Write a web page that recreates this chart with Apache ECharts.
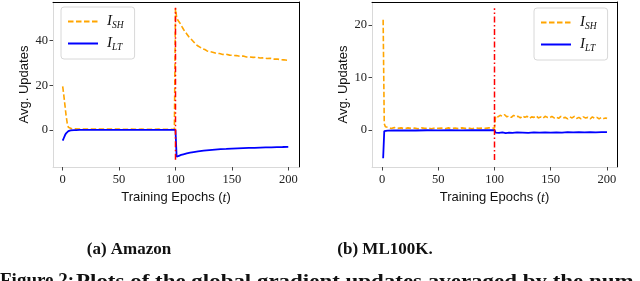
<!DOCTYPE html>
<html>
<head>
<meta charset="utf-8">
<script src="https://cdn.jsdelivr.net/npm/echarts@6/dist/echarts.min.js"></script>
<style>html,body{margin:0;padding:0;background:#fff}#c{width:640px;height:281px}</style>
</head>
<body>
<div id="c"></div>
<script>
// ---- Data ----
const amazonShX = [0,1,2,3,4,5,6,8,10,15,20,25,30,35,40,45,50,55,60,65,70,75,80,85,90,95,99,100,101,102,104,106,108,110,112,114,116,118,120,122,124,126,128,130,133,136,139,142,145,148,151,154,157,160,163,166,169,172,175,178,181,184,187,190,193,196,200];
const amazonShY = [19.5,15.5,11,6.5,3,1.2,0.7,0.5,0.5,0.4,0.45,0.4,0.35,0.4,0.35,0.4,0.35,0.3,0.35,0.3,0.35,0.3,0.3,0.35,0.3,0.3,0.3,54.5,50.5,49.2,47.8,46.0,44.3,43.0,41.6,40.6,39.5,38.3,37.6,37.0,36.3,36.0,35.4,35.1,34.8,34.3,34.2,33.8,33.9,33.5,33.4,33.3,33.0,33.1,32.7,32.7,32.5,32.6,32.2,32.3,32.0,32.1,31.7,31.8,31.5,31.4,31.1];
const amazonLtX = [0,1,2,3,4,5,6,7,8,10,12,15,20,30,40,50,60,70,80,90,100,101,102,103,105,107,110,113,116,120,125,130,135,140,145,150,155,160,165,170,175,180,185,190,195,200];
const amazonLtY = [-4.8,-3.6,-2.4,-1.5,-0.9,-0.55,-0.35,-0.22,-0.15,-0.08,-0.04,0,0,0,0,0,0,0,0,0,0,-12.0,-11.8,-11.6,-11.2,-10.9,-10.5,-10.2,-9.9,-9.6,-9.3,-9.0,-8.8,-8.6,-8.5,-8.35,-8.25,-8.15,-8.05,-8.0,-7.9,-7.85,-7.8,-7.7,-7.65,-7.55];
const amazonVline = [-13.4, 54.7];

const mlShX = [1,2,3,5,8,11,14,17,20,23,26,29,32,35,38,41,44,47,50,53,56,59,62,65,68,71,74,77,80,83,86,89,92,95,98,100,101,103,105,107,109,111,113,115,117,119,121,123,125,127,129,131,133,135,137,139,141,143,145,147,149,151,153,155,157,159,161,163,165,167,169,171,173,175,177,179,181,183,185,187,189,191,193,195,197,199,200];
const mlShY = [21,1.2,0.6,0.5,0.3,0.45,0.3,0.4,0.25,0.4,0.3,0.35,0.25,0.4,0.3,0.35,0.25,0.4,0.3,0.35,0.25,0.4,0.3,0.35,0.25,0.4,0.3,0.35,0.25,0.4,0.3,0.35,0.3,0.4,0.3,0.4,2.7,2.5,2.8,2.6,2.9,2.5,2.7,2.4,2.8,2.5,2.6,2.3,2.7,2.4,2.6,2.2,2.5,2.4,2.7,2.3,2.5,2.2,2.6,2.4,2.3,2.6,2.3,2.5,2.2,2.6,2.3,2.4,2.1,2.5,2.3,2.6,2.2,2.4,2.1,2.5,2.3,2.4,2.1,2.5,2.2,2.4,2.1,2.4,2.2,2.3,2.2];
const mlLtX = [1,2,5,10,20,30,40,50,60,70,80,90,100,101,104,107,110,113,116,120,125,130,135,140,145,150,155,160,165,170,175,180,185,190,195,200];
const mlLtY = [-5.4,-0.2,-0.12,-0.1,-0.08,-0.1,-0.05,-0.08,-0.05,-0.07,-0.04,-0.05,-0.03,-0.5,-0.55,-0.45,-0.6,-0.5,-0.55,-0.45,-0.5,-0.55,-0.45,-0.5,-0.45,-0.5,-0.45,-0.5,-0.42,-0.47,-0.43,-0.45,-0.4,-0.44,-0.4,-0.42];
const mlVline = [-5.7, 23.2];

const switchEpoch = 100;
const xTicks = [0, 50, 100, 150, 200];
const amazonYTicks = [0, 20, 40];
const mlYTicks = [0, 10, 20];
const seriesNames = ['I_SH', 'I_LT'];
const captions = ['(a) Amazon', '(b) ML100K.'];
const figCaptionHead = 'Figure 2:';
const figCaptionBody = 'Plots of the global gradient updates averaged by the num';

// ---- Build ----
const zip = (xs, ys) => xs.map((x, i) => [x, ys[i]]);
const ORANGE = '#ffa500', BLUE = '#0000ff', RED = '#ff0000';
const SERIF = '"Liberation Serif", "DejaVu Serif", serif';
const SANS = '"Liberation Sans", "DejaVu Sans", sans-serif';

function xAxes(grid, min, max) {
  return [
    {
      gridIndex: grid, type: 'value', min: min, max: max, position: 'bottom',
      axisLine: { onZero: false, lineStyle: { color: '#d9d9d9', width: 1 } },
      axisTick: { show: true, length: 3.5, customValues: xTicks, lineStyle: { color: '#444' } },
      axisLabel: { customValues: xTicks, margin: 6, color: '#222', fontFamily: SERIF, fontSize: 12.5 },
      splitLine: { show: false },
      name: '{n|Training Epochs (}{t|t}{n|)}', nameLocation: 'middle', nameGap: 21,
      nameTextStyle: { rich: {
        n: { fontFamily: SANS, fontSize: 13, color: '#111' },
        t: { fontFamily: SERIF, fontStyle: 'italic', fontSize: 14, color: '#111' } } }
    },
    {
      gridIndex: grid, type: 'value', min: min, max: max, position: 'top',
      axisLine: { onZero: false, lineStyle: { color: '#000', width: 1 } },
      axisTick: { show: false }, axisLabel: { show: false }, splitLine: { show: false }
    }
  ];
}
function yAxes(grid, min, max, ticks) {
  return [
    {
      gridIndex: grid, type: 'value', min: min, max: max, position: 'left',
      axisLine: { show: true, onZero: false, lineStyle: { color: '#d9d9d9', width: 1 } },
      axisTick: { show: true, length: 3.5, customValues: ticks, lineStyle: { color: '#444' } },
      axisLabel: { customValues: ticks, margin: 5, color: '#222', fontFamily: SERIF, fontSize: 12.5 },
      splitLine: { show: false },
      name: 'Avg. Updates', nameLocation: 'middle', nameGap: 22, nameRotate: 90,
      nameTextStyle: { fontFamily: SANS, fontSize: 13, color: '#111' }
    },
    {
      gridIndex: grid, type: 'value', min: min, max: max, position: 'right',
      axisLine: { show: true, onZero: false, lineStyle: { color: '#000', width: 1 } },
      axisTick: { show: false }, axisLabel: { show: false }, splitLine: { show: false }
    }
  ];
}
function lines(ax, shX, shY, ltX, ltY, vline) {
  return [
    { type: 'line', name: seriesNames[0], xAxisIndex: ax, yAxisIndex: ax, data: zip(shX, shY),
      showSymbol: false, symbol: 'none', lineStyle: { color: ORANGE, width: 1.6, type: [5.5, 2.5] }, itemStyle: { color: ORANGE }, z: 3 },
    { type: 'line', name: seriesNames[1], xAxisIndex: ax, yAxisIndex: ax, data: zip(ltX, ltY),
      showSymbol: false, symbol: 'none', lineStyle: { color: BLUE, width: 1.8 }, itemStyle: { color: BLUE }, z: 4 },
    { type: 'line', name: 'switch', xAxisIndex: ax, yAxisIndex: ax, data: vline.map(v => [switchEpoch, v]),
      showSymbol: false, symbol: 'none', lineStyle: { color: RED, width: 1.5, type: [6, 2.5, 1.5, 2.5] }, z: 5 }
  ];
}
const legendRich = {
  i: { fontFamily: SERIF, fontStyle: 'italic', fontSize: 15, color: '#111', padding: [0, 0, 0, 4] },
  s: { fontFamily: SERIF, fontStyle: 'italic', fontSize: 9.5, color: '#111', padding: [7, 0, 0, 0] }
};
function legend(left, top) {
  return {
    data: seriesNames, orient: 'vertical', left: left, top: top,
    itemWidth: 30, itemHeight: 14, itemGap: 6, padding: [7, 11, 7, 6],
    backgroundColor: '#fff', borderColor: '#d8d8d8', borderWidth: 1, borderRadius: 3,
    itemStyle: { opacity: 0 },
    textStyle: { rich: legendRich },
    formatter: n => '{i|I}{s|' + n.split('_')[1] + '}'
  };
}

const option = {
  animation: false,
  backgroundColor: '#fff',
  grid: [
    { left: 53, top: 2, width: 246, height: 165 },
    { left: 372, top: 2, width: 245, height: 165 }
  ],
  xAxis: [...xAxes(0, -8.6, 209.5), ...xAxes(1, -8.9, 208.9)],
  yAxis: [...yAxes(0, -16.6, 57.3, amazonYTicks), ...yAxes(1, -7.05, 24.38, mlYTicks)],
  legend: [legend(61, 7), legend(534, 8)],
  series: [
    ...lines(0, amazonShX, amazonShY, amazonLtX, amazonLtY, amazonVline),
    ...lines(2, mlShX, mlShY, mlLtX, mlLtY, mlVline)
  ],
  graphic: [
    { type: 'text', x: 129, y: 250, style: { text: captions[0], font: 'bold 17px ' + SERIF, fill: '#111', align: 'center', verticalAlign: 'middle' } },
    { type: 'text', x: 385, y: 250, style: { text: captions[1], font: 'bold 17px ' + SERIF, fill: '#111', align: 'center', verticalAlign: 'middle' } },
    { type: 'text', x: 0, y: 272, style: { text: figCaptionHead, font: 'bold 19px ' + SERIF, fill: '#111', verticalAlign: 'top' } },
    { type: 'text', x: 76, y: 273, scaleX: 1.24, style: { text: figCaptionBody, font: 'bold 18.5px ' + SERIF, fill: '#111', verticalAlign: 'top' } }
  ]
};
const chart = echarts.init(document.getElementById('c'), null, { renderer: 'canvas' });
chart.setOption(option);
</script>
</body>
</html>
